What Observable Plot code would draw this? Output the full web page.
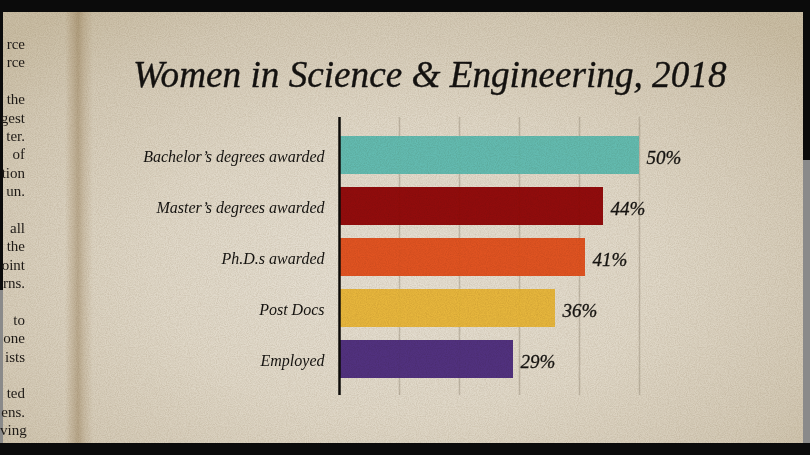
<!DOCTYPE html>
<html>
<head>
<meta charset="utf-8">
<script src="https://cdn.jsdelivr.net/npm/d3@7"></script>
<script src="https://cdn.jsdelivr.net/npm/@observablehq/plot@0.6"></script>
<style>
  html, body { margin: 0; padding: 0; background: #0b0b0b; }
  #page {
    position: relative; width: 810px; height: 455px; overflow: hidden;
    background: #0b0b0b;
  }
  #paper {
    position: absolute; left: 3px; top: 12px; width: 800px; height: 431px; overflow: hidden;
    background:
      linear-gradient(90deg, rgba(0,0,0,0) 0px, rgba(0,0,0,0) 62px, rgba(130,95,45,0.16) 68px, rgba(120,88,40,0.32) 75px, rgba(130,95,45,0.16) 81px, rgba(0,0,0,0) 90px),
      radial-gradient(ellipse 70% 75% at 50% 60%, rgb(230,224,212) 0%, rgb(224,216,200) 45%, rgb(212,202,182) 80%, rgb(202,190,165) 100%);
  }
  #noise { position: absolute; left: 3px; top: 12px; pointer-events: none; mix-blend-mode: multiply; opacity: 0.55; }
  #rightstrip { position: absolute; left: 803px; top: 160px; width: 7px; height: 283px; background: #8a8a8a; }
  #leftstrip { position: absolute; left: 0; top: 290px; width: 3px; height: 153px; background: #8a8a8a; }
  #edge {
    position: absolute; left: 0; top: 35px; width: 25px;
    font-family: "Liberation Serif", serif; font-size: 15px; line-height: 18.4px;
    color: #1e1a16; text-align: right; z-index: 3;
  }
  #edge div { height: 18.4px; white-space: nowrap; }
  #title {
    position: absolute; left: 130px; top: 41px;
    font-family: "Liberation Serif", serif; font-style: italic; font-size: 37.2px;
    color: #141210; white-space: nowrap; -webkit-text-stroke: 0.35px #141210;
  }
  #chart { position: absolute; left: 0; top: 110px; }
  #chart svg { max-width: none; }
</style>
</head>
<body>
<div id="page">
  <div id="paper">
    <div id="title">Women in Science &amp; Engineering, 2018</div>
  </div>
  <div id="chart"></div>
  <svg id="noise" width="800" height="431">
    <filter id="grain" x="0" y="0" width="100%" height="100%">
      <feTurbulence type="fractalNoise" baseFrequency="0.9" numOctaves="2" seed="7" result="t"/>
      <feColorMatrix type="matrix" values="0 0 0 0 0.55  0 0 0 0 0.48  0 0 0 0 0.38  0 0 0 -1.1 0.75"/>
    </filter>
    <rect width="800" height="431" filter="url(#grain)"/>
  </svg>
  <div id="rightstrip"></div>
  <div id="leftstrip"></div>
  <div id="edge"></div>
</div>
<script>
const categories = ["Bachelor’s degrees awarded", "Master’s degrees awarded", "Ph.D.s awarded", "Post Docs", "Employed"];
const values = [50, 44, 41, 36, 29];
const barColors = ["#5fbab0", "#8e0505", "#df4e1b", "#e6b537", "#4c2b7c"];
const gridTicks = [10, 20, 30, 40, 50];
const edgeLines = ["rce", "rce", "", "the", "gest", "ter.", "of", "tion", "un.", "", "all", "the", "oint", "rns.", "", "to", "one", "ists", "", "ted", "ens.", "ving"];

const edge = document.getElementById("edge");
for (const line of edgeLines) {
  const row = document.createElement("div");
  if (line) { const s = document.createElement("span"); s.textContent = line; row.appendChild(s); }
  edge.appendChild(row);
}

const data = categories.map((c, i) => ({category: c, value: values[i]}));

const chart = Plot.plot({
  width: 810,
  height: 295,
  marginTop: 7,
  marginBottom: 10,
  marginLeft: 339,
  marginRight: 171,
  style: {background: "transparent", fontFamily: "'Liberation Serif', serif", color: "#151310"},
  x: {domain: [0, 50], range: [339, 639], axis: null},
  y: {domain: categories, range: [24, 270], paddingInner: 0.255, paddingOuter: 0, label: null},
  color: {domain: categories, range: barColors},
  marks: [
    Plot.ruleX(gridTicks, {stroke: "#8f8572", strokeOpacity: 0.4, strokeWidth: 1.5}),
    Plot.barX(data, {x: "value", y: "category", fill: "category", fillOpacity: 0.97}),
    Plot.text(data, {x: "value", y: "category", text: d => d.value + "%", textAnchor: "start", dx: 7, dy: 2, fontSize: 19, fontStyle: "italic", fill: "#151310", stroke: "#151310", strokeWidth: 0.3}),
    Plot.axisY({tickSize: 0, tickPadding: 15, fontSize: 16, fontStyle: "italic", fill: "#151310", stroke: "#151310", strokeWidth: 0.25, dy: 1}),
    Plot.ruleX([0], {stroke: "#0d0b09", strokeWidth: 2.5})
  ]
});
document.getElementById("chart").appendChild(chart);
</script>
</body>
</html>
